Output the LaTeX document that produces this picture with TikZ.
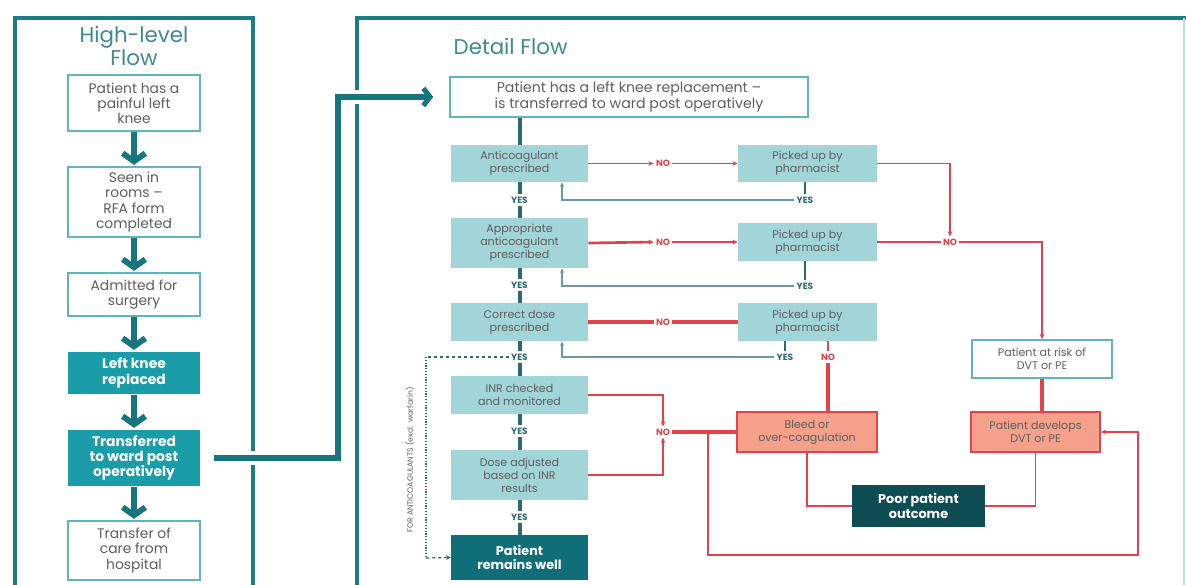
\documentclass[tikz,border=0pt]{standalone}
\usepackage{fontspec}
\setmainfont{Poppins}
\usetikzlibrary{arrows.meta}

\definecolor{frameteal}{HTML}{1D7D84}
\definecolor{arrowteal}{HTML}{15767E}
\definecolor{titleteal}{HTML}{3F8A90}
\definecolor{lightteal}{HTML}{A2D5D8}
\definecolor{midteal}{HTML}{1A9DA9}
\definecolor{deepteal}{HTML}{0F6E77}
\definecolor{darkteal}{HTML}{0F4D54}
\definecolor{edgeteal}{HTML}{5DB6BC}
\definecolor{yesteal}{HTML}{2C6A70}
\definecolor{retteal}{HTML}{6A9A9E}
\definecolor{alertred}{HTML}{E5414B}
\definecolor{salmon}{HTML}{F5A08A}
\definecolor{txtgray}{HTML}{5E5E5E}

\tikzset{
  frame/.style={draw=frameteal, line width=3pt},
  lbox/.style={draw=edgeteal, line width=1.2pt, fill=white, text=txtgray,
    align=center, inner sep=0pt, minimum width=132*0.75pt,
    font=\fontsize{10.4}{11.4}\selectfont},
  lfill/.style={lbox, draw=none, fill=midteal, text=white,
    font=\fontsize{10.4}{11.4}\selectfont\bfseries},
  dbox/.style={fill=lightteal, text=txtgray, align=center, inner sep=0pt,
    minimum width=137*0.75pt, font=\fontsize{8.3}{9.7}\selectfont},
  pbox/.style={dbox, minimum width=139*0.75pt},
  wbox/.style={draw=edgeteal, line width=1.2pt, fill=white, text=txtgray,
    align=center, inner sep=0pt, font=\fontsize{8.3}{9.7}\selectfont},
  sbox/.style={draw=alertred, line width=1.2pt, fill=salmon, text=txtgray,
    align=center, inner sep=0pt, font=\fontsize{8.3}{9.7}\selectfont},
  darkbox/.style={fill=#1, text=white, align=center, inner sep=0pt,
    font=\fontsize{9.6}{11}\selectfont\bfseries},
  yeslbl/.style={text=yesteal, inner sep=1.5pt, font=\fontsize{6.8}{7}\selectfont\bfseries},
  nolbl/.style={text=alertred, inner sep=1.5pt, font=\fontsize{6.8}{7}\selectfont\bfseries},
  bigarrow/.style={draw=arrowteal, line width=3.8pt,
    -{Straight Barb[length=5pt,width=13pt]}},
  stagearrow/.style={draw=arrowteal, line width=4.4pt,
    -{Straight Barb[length=6pt,width=17pt]}},
  yesline/.style={draw=yesteal, line width=3pt},
  retline/.style={draw=retteal, line width=1.1pt, -{Stealth[length=3.5pt,width=3pt]}},
  redthin/.style={draw=alertred, line width=1.1pt},
  redmid/.style={draw=alertred, line width=2pt},
  redthick/.style={draw=alertred, line width=2.8pt},
  redtip/.style={-{Stealth[length=4pt,width=3.5pt]}},
  loopdash/.style={draw=yesteal, line width=0.9pt, dash pattern=on 2.5pt off 2pt},
  loopdot/.style={draw=yesteal, line width=1.1pt, dash pattern=on 0.9pt off 1.2pt},
}

\begin{document}
\begin{tikzpicture}[x=0.75pt,y=-0.75pt]
\useasboundingbox[fill=white] (0,0) rectangle (1186,585);

% panel frames
\draw[frame] (15,590) -- (15,18) -- (253,18) -- (253,590);
\draw[frame] (357,590) -- (357,18) -- (1190,18);
\draw[draw=edgeteal!40, line width=0.8pt] (1184,18) -- (1184,585);

% titles
\node[text=titleteal, align=center, font=\fontsize{16}{16}\selectfont] (hlt) at (134,46) {High-level\\Flow};
\node[text=titleteal, anchor=west, font=\fontsize{16}{16}\selectfont] (dft) at (449,46) {Detail Flow};

% high-level column
\node[lbox, minimum height=56*0.75pt] (L1) at (134,103) {Patient has a\\painful left\\knee};
\node[lbox, minimum height=70*0.75pt] (L2) at (134,202) {Seen in\\rooms --\\RFA form\\completed};
\node[lbox, minimum height=43*0.75pt] (L3) at (134,294.5) {Admitted for\\surgery};
\node[lfill, minimum height=42*0.75pt] (L4) at (134,373) {Left knee\\replaced};
\node[lfill, minimum height=56*0.75pt] (L5) at (134,458) {Transferred\\to ward post\\operatively};
\node[lbox, minimum height=59*0.75pt] (L6) at (134,550.5) {Transfer of\\care from\\hospital};

\foreach \a/\b in {L1/L2,L2/L3,L3/L4,L4/L5,L5/L6}
  \draw[stagearrow, shorten >=1pt] (\a.south) -- (\b.north);

% detail column
\node[wbox, minimum width=358*0.75pt, minimum height=40*0.75pt,
  font=\fontsize{10.6}{12.2}\selectfont] (T) at (629,97)
  {Patient has a left knee replacement --\\is transferred to ward post operatively};

% link between the panels, with a white casing where it crosses the frames
\draw[white, line width=11pt] (L5.east) ++(13,0) -| (338,97) -- (425,97);
\draw[bigarrow] (L5.east) ++(13,0) -| (338,97) -- ([xshift=-16*0.75pt]T.west);

\node[dbox, minimum height=37*0.75pt] (M1) at (519.5,163.5) {Anticoagulant\\prescribed};
\node[dbox, minimum height=50*0.75pt] (M2) at (519.5,243) {Appropriate\\anticoagulant\\prescribed};
\node[dbox, minimum height=38*0.75pt] (M3) at (519.5,322) {Correct dose\\prescribed};
\node[dbox, minimum height=38*0.75pt] (M4) at (519.5,395) {INR checked\\and monitored};
\node[dbox, minimum height=50*0.75pt] (M5) at (519.5,475) {Dose adjusted\\based on INR\\results};
\node[darkbox=deepteal, minimum width=137*0.75pt, minimum height=45*0.75pt] (M6) at (519.5,557.5) {Patient\\remains well};

\node[yeslbl] (Y1) at (519.5,200) {YES};
\node[yeslbl] (Y2) at (519.5,285) {YES};
\node[yeslbl] (Y3) at (519.5,357) {YES};
\node[yeslbl] (Y4) at (519.5,431) {YES};
\node[yeslbl] (Y5) at (519.5,517) {YES};

\draw[yesline] (T.south -| M1.north) -- (M1.north);
\draw[yesline] (M1.south) -- (Y1.north);  \draw[yesline] (Y1.south) -- (M2.north);
\draw[yesline] (M2.south) -- (Y2.north);  \draw[yesline] (Y2.south) -- (M3.north);
\draw[yesline] (M3.south) -- (Y3.north);  \draw[yesline] (Y3.south) -- (M4.north);
\draw[yesline] (M4.south) -- (Y4.north);  \draw[yesline] (Y4.south) -- (M5.north);
\draw[yesline] (M5.south) -- (Y5.north);  \draw[yesline] (Y5.south) -- (M6.north);

% pharmacist checks
\node[pbox, minimum height=37*0.75pt] (P1) at (807.5,163.5) {Picked up by\\pharmacist};
\node[pbox, minimum height=38*0.75pt] (P2) at (807.5,242) {Picked up by\\pharmacist};
\node[pbox, minimum height=38*0.75pt] (P3) at (807.5,322) {Picked up by\\pharmacist};

\node[nolbl] (N1) at (663,163.5) {NO};
\node[nolbl] (N2) at (663,242) {NO};
\node[nolbl] (N3) at (663,322) {NO};
\draw[redthin, redtip] (M1.east) -- (N1.west);  \draw[redthin, redtip] (N1.east) -- (P1.west);
\draw[redmid, redtip] (M2.east) -- (N2.west);   \draw[redmid, redtip] (N2.east) -- (P2.west);
\draw[redthick] (M3.east) -- (N3.west);         \draw[redthick] (N3.east) -- (P3.west);

\node[yeslbl] (PY1) at (805,200) {YES};
\node[yeslbl] (PY2) at (805,286) {YES};
\node[yeslbl] (PY3) at (785,357) {YES};
\draw[yesline, line width=2.2pt] (P1.south -| PY1.north) -- (PY1.north);
\draw[yesline, line width=2.2pt] (P2.south -| PY2.north) -- (PY2.north);
\draw[yesline, line width=2.2pt] (P3.south -| PY3.north) -- (PY3.north);
\draw[retline] (PY1.west) -| ([xshift=42.5*0.75pt]M1.south);
\draw[retline] (PY2.west) -| ([xshift=42.5*0.75pt]M2.south);
\draw[retline] (PY3.west) -| ([xshift=42.5*0.75pt]M3.south);

% escalation paths
\node[nolbl] (PN2) at (950,242) {NO};
\node[nolbl] (PN3) at (828,357) {NO};
\node[wbox, minimum width=140*0.75pt, minimum height=38*0.75pt] (R) at (1042,359) {Patient at risk of\\DVT or PE};
\node[sbox, minimum width=140*0.75pt, minimum height=40*0.75pt] (B) at (807,432) {Bleed or\\over-coagulation};
\node[sbox, minimum width=129*0.75pt, minimum height=40*0.75pt] (D) at (1035.5,432) {Patient develops\\DVT or PE};
\node[darkbox=darkteal, minimum width=133*0.75pt, minimum height=42*0.75pt] (O) at (918.5,506) {Poor patient\\outcome};

\draw[redthin, redtip] (P1.east) -| (PN2.north);
\draw[redmid] (P2.east) -- (PN2.west);
\draw[redthin, redtip] (PN2.east) -| (R.north);
\draw[redthick] (R.south) -- (R.south |- D.north);
\draw[redmid] (P3.south -| PN3.north) -- (PN3.north);
\draw[redthick] (PN3.south) -- (PN3.south |- B.north);

\node[nolbl] (NI) at (663,432) {NO};
\draw[redthin, redtip] (M4.east) -| (NI.north);
\draw[redthin, redtip] (M5.east) -| (NI.south);
\draw[redthick] (NI.east) -- (B.west);
\coordinate (br) at (708,432);
\draw[redthin, redtip] (br) |- (1138,555) |- (D.east);
\draw[redthin] (B.south) |- (O.west);
\draw[redthin] (D.south) |- (O.east);

% shortcut for anticoagulants other than warfarin
\coordinate (c1) at (426,357);
\coordinate (c2) at (426,558);
\draw[loopdash] (Y3.west) -- (c1);
\draw[loopdot] (c1) -- (c2);
\draw[loopdash, -{Stealth[length=3.5pt,width=3.5pt]}] (c2) -- (M6.west);
\node[rotate=90, text=txtgray, inner sep=0pt, font=\fontsize{5.8}{6}\selectfont] (fa) at (410,460) {FOR ANTICOAGULANTS (excl. warfarin)};

\end{tikzpicture}
\end{document}
